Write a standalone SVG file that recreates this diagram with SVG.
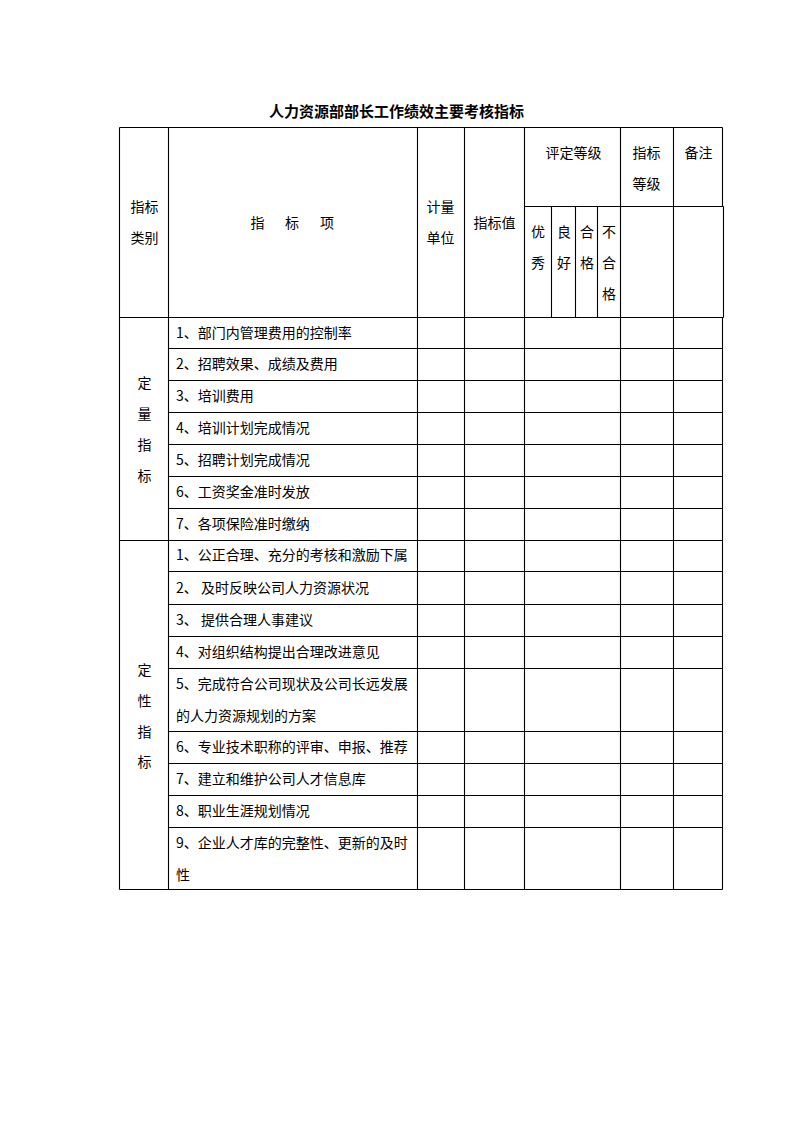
<svg xmlns="http://www.w3.org/2000/svg" width="794" height="1123" viewBox="0 0 794 1123">
<style>
.g{stroke:#000;stroke-width:1.1;fill:none}
text{font-family:"Noto Sans CJK SC","Noto Sans",sans-serif;font-size:14px;fill:#000}
.c{text-anchor:middle}
.t{font-size:15px;font-weight:bold}
</style>
<rect width="794" height="1123" fill="#fff"/>
<text id="title" class="c t" x="396.5" y="116.5">人力资源部部长工作绩效主要考核指标</text>
<g id="grid" class="g">
<path d="M119.5 127.5H722.5M524.5 206.5H723.5M119.5 317.5H723.5"/>
<path d="M119.5 127.5V889.5M168.5 127.5V889.5M417.5 127.5V889.5M464.5 127.5V889.5M524.5 127.5V889.5M620.5 127.5V889.5M673.5 127.5V889.5"/>
<path d="M551.5 206.5V317.5M575.5 206.5V317.5M597.5 206.5V317.5"/>
<path d="M722.5 127.5V206.5M723.5 206.5V317.5M722.5 317.5V889.5"/>
<path d="M168.5 348.5H722.5M168.5 380.5H722.5M168.5 412.5H722.5M168.5 444.5H722.5M168.5 476.5H722.5M168.5 508.5H722.5M119.5 540.5H722.5"/>
<path d="M168.5 571.5H722.5M168.5 604.5H722.5M168.5 636.5H722.5M168.5 668.5H722.5M168.5 731.5H722.5M168.5 763.5H722.5M168.5 795.5H722.5M168.5 827.5H722.5M119.5 889.5H722.5"/>
</g>
<g id="header">
<text class="c" x="144.5" y="211.5">指标</text>
<text class="c" x="144.5" y="242.5">类别</text>
<text class="c" x="257.5" y="227.5">指</text>
<text class="c" x="292" y="227.5">标</text>
<text class="c" x="327" y="227.5">项</text>
<text class="c" x="440.5" y="211.5">计量</text>
<text class="c" x="440.5" y="242.5">单位</text>
<text class="c" x="494.5" y="227.5">指标值</text>
<text class="c" x="573.5" y="157.5">评定等级</text>
<text class="c" x="646.5" y="157.5">指标</text>
<text class="c" x="646.5" y="188.5">等级</text>
<text class="c" x="698.5" y="157.5">备注</text>
<text class="c" x="538" y="236.5">优</text>
<text class="c" x="538" y="267.5">秀</text>
<text class="c" x="564" y="236.5">良</text>
<text class="c" x="564" y="267.5">好</text>
<text class="c" x="587" y="236.5">合</text>
<text class="c" x="587" y="267.5">格</text>
<text class="c" x="609" y="236.5">不</text>
<text class="c" x="609" y="267.5">合</text>
<text class="c" x="609" y="298.5">格</text>
</g>
<g id="quant">
<text class="c" x="144.5" y="387.5">定</text>
<text class="c" x="144.5" y="418.5">量</text>
<text class="c" x="144.5" y="449.5">指</text>
<text class="c" x="144.5" y="480.5">标</text>
<text x="176" y="337.5">1、部门内管理费用的控制率</text>
<text x="176" y="369">2、招聘效果、成绩及费用</text>
<text x="176" y="401">3、培训费用</text>
<text x="176" y="433">4、培训计划完成情况</text>
<text x="176" y="465">5、招聘计划完成情况</text>
<text x="176" y="497">6、工资奖金准时发放</text>
<text x="176" y="528.5">7、各项保险准时缴纳</text>
</g>
<g id="qual">
<text class="c" x="144.5" y="674.5">定</text>
<text class="c" x="144.5" y="705.5">性</text>
<text class="c" x="144.5" y="736.5">指</text>
<text class="c" x="144.5" y="767">标</text>
<text x="176" y="560">1、公正合理、充分的考核和激励下属</text>
<text x="176" y="592.5">2、 及时反映公司人力资源状况</text>
<text x="176" y="625">3、 提供合理人事建议</text>
<text x="176" y="657">4、对组织结构提出合理改进意见</text>
<text x="176" y="689">5、完成符合公司现状及公司长远发展</text>
<text x="176" y="721">的人力资源规划的方案</text>
<text x="176" y="752">6、专业技术职称的评审、申报、推荐</text>
<text x="176" y="784">7、建立和维护公司人才信息库</text>
<text x="176" y="816">8、职业生涯规划情况</text>
<text x="176" y="848">9、企业人才库的完整性、更新的及时</text>
<text x="176" y="879.5">性</text>
</g>
</svg>
